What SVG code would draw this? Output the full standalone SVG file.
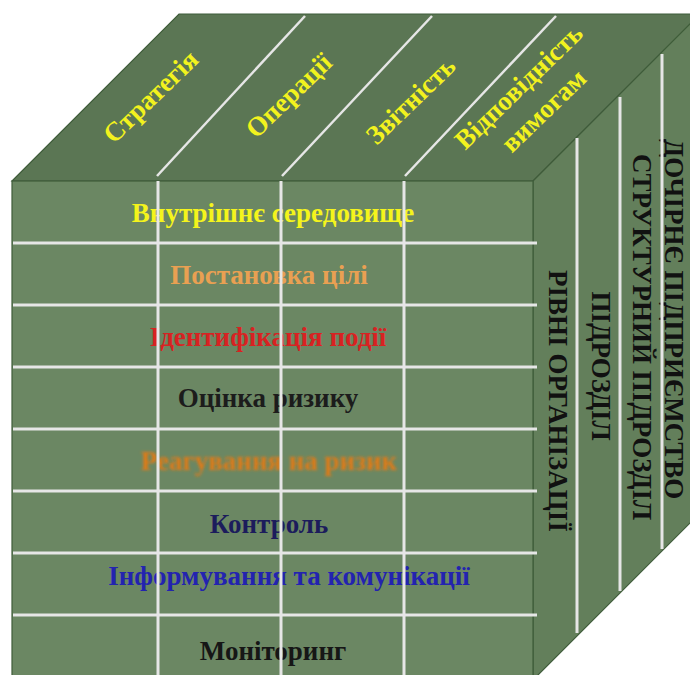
<svg xmlns="http://www.w3.org/2000/svg" width="690" height="675" viewBox="0 0 690 675">
  <defs>
    <style>
      .face-front { fill: #6b8763; stroke: #3f5c3a; stroke-width: 1.2; }
      .face-top { fill: #5b7654; stroke: #3f5c3a; stroke-width: 1.2; }
      .face-side { fill: #637f5b; stroke: #3f5c3a; stroke-width: 1.2; }
      .grid { stroke: #e6e6e6; stroke-width: 3; fill: none; }
      .grid-top { stroke: #e6e6e6; stroke-width: 2.5; fill: none; }
      .lbl { font-family: "Liberation Serif", "Times New Roman", serif; font-size: 27px; font-weight: bold; text-anchor: middle; }
      .top-lbl { fill: #f2f21e; }
      .side-lbl { fill: #111111; }
    </style>
    <filter id="soft" x="-10%" y="-50%" width="120%" height="200%">
      <feGaussianBlur stdDeviation="1.6"/>
    </filter>
  </defs>

  <rect width="690" height="675" fill="#ffffff"/>

  <!-- cube faces -->
  <g id="cube-faces">
    <polygon class="face-top" points="12,181 179,14 700,14 533,181"/>
    <polygon class="face-side" points="533,181 700,14 700,513 533,680"/>
    <rect class="face-front" x="12" y="181" width="521" height="500"/>
  </g>

  <!-- top face: objective categories -->
  <g id="objectives">
    <text class="lbl top-lbl" transform="translate(152,98) rotate(-44)" x="0" y="7">Стратегія</text>
    <text class="lbl top-lbl" transform="translate(290,97) rotate(-44)" x="0" y="7">Операції</text>
    <text class="lbl top-lbl" transform="translate(412,102) rotate(-44)" x="0" y="7">Звітність</text>
    <text class="lbl top-lbl" transform="translate(520,88) rotate(-44)" x="0" y="7">Відповідність</text>
    <text class="lbl top-lbl" transform="translate(545,112) rotate(-44)" x="0" y="7">вимогам</text>
  </g>

  <!-- front face: components -->
  <g id="components">
    <text class="lbl" x="273" y="222" fill="#f4f41c">Внутрішнє середовище</text>
    <text class="lbl" x="269" y="284" fill="#e9a052">Постановка цілі</text>
    <text class="lbl" x="268" y="346" fill="#d82222">Ідентифікація події</text>
    <text class="lbl" x="268" y="407" fill="#1c1c1c" font-weight="normal">Оцінка ризику</text>
    <text class="lbl" x="269" y="470" fill="#e27a14" filter="url(#soft)">Реагування на ризик</text>
    <text class="lbl" x="269" y="533" fill="#1c1c5c">Контроль</text>
    <text class="lbl" x="289" y="585" fill="#2323b0">Інформування та комунікації</text>
    <text class="lbl" x="273" y="660" fill="#161616">Моніторинг</text>
  </g>

  <!-- right face: organisational levels -->
  <g id="levels">
    <text class="lbl side-lbl" transform="translate(665,319) rotate(90)" x="0" y="0">ДОЧІРНЄ ПІДПРИЄМСТВО</text>
    <text class="lbl side-lbl" transform="translate(633,337) rotate(90)" x="0" y="0">СТРУКТУРНИЙ ПІДРОЗДІЛ</text>
    <text class="lbl side-lbl" transform="translate(592,366) rotate(90)" x="0" y="0">ПІДРОЗДІЛ</text>
    <text class="lbl side-lbl" transform="translate(549,401) rotate(90)" x="0" y="0">РІВНІ ОРГАНІЗАЦІЇ</text>
  </g>

  <!-- grid lines -->
  <g id="connectors">
    <line class="grid-top" x1="157" y1="176" x2="305" y2="16"/>
    <line class="grid-top" x1="282" y1="176" x2="432" y2="16"/>
    <line class="grid-top" x1="405" y1="176" x2="556" y2="16"/>

    <line class="grid" x1="158" y1="181" x2="158" y2="675"/>
    <line class="grid" x1="281" y1="181" x2="281" y2="675"/>
    <line class="grid" x1="404" y1="181" x2="404" y2="675"/>

    <line class="grid" x1="13" y1="243" x2="537" y2="243"/>
    <line class="grid" x1="13" y1="305" x2="537" y2="305"/>
    <line class="grid" x1="13" y1="367" x2="537" y2="367"/>
    <line class="grid" x1="13" y1="429" x2="537" y2="429"/>
    <line class="grid" x1="13" y1="491" x2="537" y2="491"/>
    <line class="grid" x1="13" y1="553" x2="537" y2="553"/>
    <line class="grid" x1="13" y1="615" x2="537" y2="615"/>

    <line class="grid" x1="577" y1="138" x2="577" y2="633"/>
    <line class="grid" x1="620" y1="97" x2="620" y2="591"/>
    <line class="grid" x1="662" y1="54" x2="662" y2="549"/>
  </g>
</svg>
